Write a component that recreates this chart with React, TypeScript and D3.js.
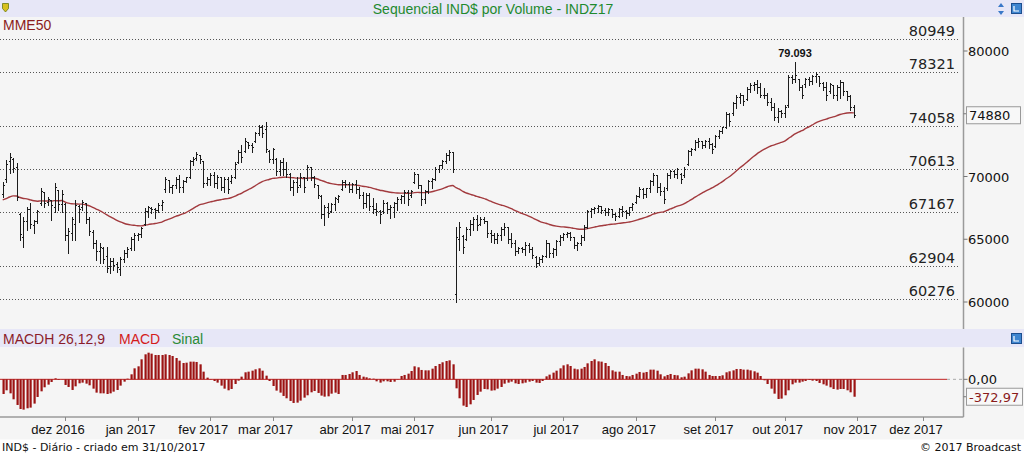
import React from "react";
import * as d3 from "d3";

// daily bars, [open, high, low, close], from early Nov 2016 to 31/10/2017
const bars: [number, number, number, number][] = [
  [68527, 69563, 68367, 69244], [69722, 71315, 69563, 70917], [71156, 71873, 70279, 71475], [71315, 71475, 70359, 70677],
  [70678, 71076, 68128, 68288], [66933, 67092, 64941, 65340], [65101, 66773, 64383, 66375], [66375, 67570, 65738, 67331],
  [67331, 67889, 65897, 66136], [66056, 66534, 65499, 66375], [66454, 67331, 66295, 67172], [67809, 69084, 67730, 68766],
  [68686, 68766, 67570, 67809], [67889, 68367, 67730, 68128], [68048, 68128, 66534, 67650], [67491, 69483, 67172, 69085],
  [68845, 68925, 67331, 67730], [67730, 68925, 67172, 68527], [67730, 67889, 64941, 65260], [65260, 65897, 63905, 65579],
  [65419, 66773, 64941, 66534], [66136, 68128, 64941, 67650], [67570, 67730, 66375, 67331], [67491, 68128, 67331, 67889],
  [67809, 67889, 66295, 66534], [66534, 66773, 65340, 65579], [65499, 65738, 64304, 64622], [64622, 64941, 63347, 63985],
  [63985, 64702, 63108, 64304], [64224, 64383, 63108, 63347], [63587, 64383, 62391, 62709], [62789, 63507, 62311, 63188],
  [63188, 63507, 62550, 62869], [62949, 63188, 62391, 62710], [62550, 63586, 62152, 63347], [63347, 64144, 63188, 63825],
  [63825, 64383, 63586, 64144], [64224, 65180, 64144, 64941], [64941, 65499, 64144, 65260], [65260, 65499, 64941, 65340],
  [65340, 65977, 65180, 65818], [66215, 67491, 66136, 67172], [67172, 67650, 66773, 67491], [67411, 67570, 67092, 67331],
  [67331, 67491, 66694, 67252], [67252, 67889, 67172, 67650], [67650, 68128, 67331, 67889], [68925, 69961, 68766, 69722],
  [69642, 69722, 68766, 69085], [69085, 69324, 68686, 69244], [69244, 69960, 69085, 69722], [69722, 70120, 68766, 69085],
  [69085, 69722, 68766, 69563], [69563, 69960, 69563, 69881], [69960, 71315, 69881, 71156], [71156, 71554, 70917, 71315],
  [71395, 71953, 71315, 71714], [71634, 71714, 71076, 71315], [71156, 71235, 69164, 69403], [69403, 69960, 69324, 69722],
  [69722, 70279, 69324, 70040], [70040, 70359, 69164, 69403], [69403, 70120, 69085, 69881], [69881, 69960, 68925, 69085],
  [69085, 69960, 68766, 69722], [69722, 69960, 68686, 68925], [69563, 70120, 69483, 69960], [69960, 71156, 69881, 70996],
  [71076, 72112, 71076, 71873], [71873, 72510, 71156, 71475], [71953, 73068, 71953, 72750], [72670, 72750, 72272, 72431],
  [72431, 72670, 71953, 72272], [72750, 73547, 72750, 73387], [73387, 74104, 73308, 73865], [73865, 74104, 73148, 73387],
  [73706, 74343, 71953, 72112], [71953, 72112, 71156, 71315], [71315, 72272, 71076, 72112], [71315, 71475, 70120, 70359],
  [70359, 71315, 70120, 71076], [71076, 71475, 70120, 70518], [70518, 71156, 69960, 70199], [70120, 70279, 68925, 69085],
  [69085, 69722, 68527, 69483], [69483, 69960, 68766, 69085], [69244, 70279, 69164, 69960], [69881, 69960, 68766, 69085],
  [69801, 70917, 69722, 70678], [70678, 70758, 69722, 69960], [69960, 70040, 69164, 69324], [69244, 69324, 68288, 68447],
  [68367, 68527, 66694, 66933], [66933, 67730, 66136, 67491], [67491, 67889, 66773, 67012], [67172, 67889, 67172, 67730],
  [67730, 68367, 67331, 68208], [68128, 68527, 67969, 68367], [68925, 69722, 68925, 69483], [69483, 69722, 69164, 69324],
  [69324, 69563, 68766, 68925], [68925, 69483, 68766, 69324], [69324, 69722, 68686, 68925], [68925, 69164, 68288, 68447],
  [68447, 68766, 67491, 67809], [67809, 68686, 67570, 68447], [68447, 68686, 67331, 67570], [67570, 68288, 67092, 67331],
  [67331, 67889, 66933, 67172], [67172, 67331, 66295, 66933], [67172, 68128, 67092, 67809], [67809, 67969, 67092, 67331],
  [67331, 67730, 66694, 67491], [67491, 67969, 66773, 67809], [67809, 68367, 67331, 68128], [68128, 68527, 67889, 68367],
  [68367, 68925, 67889, 68686], [68686, 68925, 67730, 68128], [68447, 68925, 68367, 68766], [69483, 70359, 69483, 70120],
  [70120, 70199, 69085, 69244], [69244, 69324, 67730, 68128], [68128, 68925, 67889, 68766], [68766, 69722, 68686, 69563],
  [69563, 69881, 69085, 69722], [69722, 70758, 69722, 70518], [70518, 70917, 70359, 70837], [70837, 71315, 70678, 71156],
  [71156, 71873, 71076, 71634], [71634, 72112, 71315, 71873], [71873, 71953, 70359, 70518], [60559, 65976, 60001, 65101],
  [64941, 66375, 64144, 65897], [65180, 65340, 63905, 64304], [64941, 65976, 64941, 65738], [65738, 66534, 65340, 66215],
  [66215, 66773, 65738, 66534], [66534, 66933, 65738, 66056], [66215, 66773, 66136, 66534], [66534, 66773, 66295, 66375],
  [66375, 66454, 65180, 65419], [65419, 65738, 64782, 65260], [65260, 65499, 64702, 64941], [64941, 65499, 64702, 65260],
  [65260, 65976, 64941, 65738], [65738, 66295, 65340, 65897], [65897, 65976, 64702, 64941], [64941, 65499, 64383, 64622],
  [64622, 64941, 63746, 63985], [63985, 64383, 63905, 64224], [64224, 64383, 63985, 64144], [64144, 64782, 63746, 64463],
  [64463, 64702, 63985, 64144], [64144, 64383, 63507, 63666], [63507, 63666, 62789, 63028], [63028, 63586, 62949, 63347],
  [63347, 63746, 63188, 63586], [63586, 64941, 63586, 64622], [64622, 64702, 63586, 63825], [63825, 64304, 63586, 64144],
  [64144, 64941, 63746, 64782], [64782, 65340, 64543, 65101], [65101, 65499, 64941, 65340], [65340, 65579, 65180, 65419],
  [65419, 65579, 64941, 65101], [65101, 65180, 64304, 64463], [64463, 64782, 64144, 64622], [64622, 65340, 64543, 65101],
  [65101, 66136, 64941, 65897], [65897, 67331, 65897, 67172], [67172, 67491, 66773, 67331], [67331, 67570, 67092, 67411],
  [67411, 67730, 67172, 67570], [67570, 67650, 67092, 67252], [67252, 67491, 66933, 67092], [67092, 67491, 66933, 67331],
  [67331, 67411, 66773, 66933], [66933, 67092, 66534, 66773], [66773, 67491, 66773, 67331], [67331, 67650, 66853, 67172],
  [67172, 67331, 66694, 67012], [67012, 67570, 66933, 67491], [67491, 67889, 67331, 67730], [67889, 68527, 67889, 68367],
  [68367, 69164, 68367, 68925], [68925, 69085, 68288, 68527], [68527, 69085, 68367, 69005], [69005, 69722, 68766, 69563],
  [69563, 70279, 69324, 70040], [70040, 70120, 68766, 69085], [69085, 69483, 68527, 68766], [68766, 69164, 67889, 68128],
  [69005, 70279, 68925, 70040], [70040, 70518, 69881, 70359], [70359, 70518, 69960, 70120], [70120, 70678, 69881, 70518],
  [70199, 70279, 69483, 69722], [70040, 70758, 69960, 70518], [70917, 72112, 70917, 71953], [71953, 72272, 71714, 72112],
  [72112, 72909, 72112, 72670], [72670, 73069, 72351, 72750], [72750, 72829, 72272, 72431], [72431, 72909, 72351, 72750],
  [72750, 73069, 72272, 72511], [72511, 72670, 71873, 72112], [72351, 73308, 72351, 73148], [73148, 73706, 73069, 73547],
  [73547, 73945, 73467, 73865], [73865, 75140, 73865, 74901], [74901, 75060, 74104, 74343], [74981, 75937, 74901, 75777],
  [75777, 76494, 75459, 76255], [76255, 76654, 75857, 76494], [76415, 76494, 75698, 75937], [76096, 77132, 76096, 76893],
  [76893, 77451, 76734, 77212], [77212, 77530, 76893, 77291], [77291, 77690, 76654, 77052], [77052, 77451, 76335, 76494],
  [76494, 77052, 76255, 76415], [76415, 76654, 75698, 75857], [75857, 76255, 75299, 75459], [75459, 75857, 74502, 74662],
  [74662, 75459, 74343, 75140], [75140, 75299, 74742, 74981], [74981, 75698, 74742, 75459], [75618, 78088, 75538, 77849],
  [77849, 78088, 77451, 77690], [77690, 79093, 77530, 78008], [77690, 77769, 76893, 77052], [77052, 77291, 76255, 76494],
  [77291, 77849, 77132, 77690], [77690, 77929, 77291, 77530], [77530, 78088, 77371, 77929], [77929, 78327, 77530, 78088],
  [77929, 78008, 77212, 77371], [77371, 77530, 76893, 77052], [77052, 77530, 76096, 76494], [76734, 77451, 76654, 77291],
  [77212, 77291, 76255, 76415], [76415, 77291, 76096, 77052], [77052, 77690, 76255, 77451], [77451, 77530, 76494, 76734],
  [76734, 76813, 76096, 76335], [76335, 76494, 75299, 75459], [75459, 75698, 74742, 74880],
];

// MACDH 26,12,9 histogram, one value per bar
const macdHist = [
  -314, -235, -300, -428, -549, -635, -649, -620, -606, -520,
  -378, -257, -171, -114, -57, 21, -14, -5, -121, -164,
  -228, -150, -86, -71, -93, -128, -200, -285, -300, -300,
  -314, -300, -264, -228, -135, -50, 14, 107, 235, 278,
  428, 535, 570, 549, 520, 520, 520, 535, 520, 499,
  456, 399, 349, 356, 378, 378, 371, 321, 164, 36,
  -7, -36, -71, -135, -200, -235, -207, -100, -29, 57,
  150, 164, 185, 214, 235, 185, 78, -36, -143, -242,
  -285, -356, -406, -463, -506, -499, -456, -392, -342, -278,
  -250, -292, -349, -371, -364, -307, -285, -314,
  93, 93, 114, 150, 178, 93, 57, 43, 21, 14,
  -43, -71, -43, -43, -57, -50, -7, 71, 93, 121,
  178, 278, 257, 200, 192, 192, 228, 285, 328, 364,
  392, 406, 321, -193, -406, -563, -592, -535, -442, -335,
  -264, -207, -214, -242, -235, -200, -164, -93, -71, -50,
  -86, -100, -86, -71, -50, -36, -71, -78, -36, 64,
  100, 143, 185, 235, 299, 321, 285, 228, 214, 228,
  264, 342, 392, 428, 385, 378, 349, 285, 192, 164,
  164, 93, 71, 64, 93, 121, 157, 143, 157, 207,
  207, 185, 107, 64, 93, 114, 93, 86,
  43, 57, 128, 192, 228, 228, 214, 164, 93, 71,
  71, 71, 86, 150, 171, 192, 221, 221, 207, 207,
  192, 171, 143, 71, -21, -100, -200, -307, -421, -413,
  -342, -235, -107, -71, -71, -50, -36, -14, -29, -36,
  -78, -107, -135, -171, -207, -221, -207, -207, -235, -278,
  -373,
];

const months = ["dez 2016", "jan 2017", "fev 2017", "mar 2017", "abr 2017", "mai 2017", "jun 2017",
  "jul 2017", "ago 2017", "set 2017", "out 2017", "nov 2017", "dez 2017"];
const monthStart = [18, 39, 60, 78, 101, 119, 141, 162, 183, 206, 226, 247, 266]; // bar index of 1st session

const levels = [80949, 78321, 74058, 70613, 67167, 62904, 60276];
const priceTicks = [60000, 65000, 70000, 75000, 80000];
const emaSeed = 68130; // MME50 value at the first bar
const lastPrice = 74880;
const lastHist = -372.97;
const peakLabel = "79.093";

const W = 1024, H = 454;
const axisX = 963.5;

export default function App() {
  const x = d3.scaleLinear().domain([0, 266]).range([2.7, 2.7 + 266 * 3.46]);
  const y = d3.scaleLinear().domain([60000, 80000]).range([302, 51]);
  const yM = d3.scaleLinear().domain([-800, 700]).range([416.7, 346.6]);

  // MME50 from the closes
  const k = 2 / 51;
  const ema: number[] = [];
  bars.forEach((b, i) => {
    ema.push(i === 0 ? emaSeed : ema[i - 1] + k * (b[3] - ema[i - 1]));
  });
  const emaLine = d3.line<number>().x((_, i) => x(i)).y((d) => y(d)).curve(d3.curveMonotoneX);

  const peakIdx = d3.maxIndex(bars, (b) => b[1]);
  const px = (i: number) => Math.round(x(i)) + 0.5;

  return (
    <svg width={W} height={H} style={{ position: "absolute", left: 0, top: 0, display: "block" }}
      fontFamily="'Liberation Sans', Arial, sans-serif">
      <rect width={W} height={H} fill="#ffffff" />
      {/* bands */}
      <rect x={0} y={0} width={W} height={17} fill="#e7e7f7" />
      <rect x={0} y={17} width={W} height={312} fill="#f5f5f5" />
      <rect x={0} y={329} width={W} height={18.5} fill="#e7e7f7" />
      <rect x={0} y={347.5} width={W} height={92} fill="#f5f5f5" />

      {/* title + icons */}
      <text x={493} y={14} textAnchor="middle" fontSize={14} fill="#1f8a2e">Sequencial IND$ por Volume - INDZ17</text>
      <path d="M2.5,3.5 h6 v5 l-3,3.5 l-3,-3.5 z" fill="#d8c020" stroke="#6a7a10" strokeWidth={0.8} />
      <path d="M1001,3 l3,4 h-6 z M1001,15 l3,-4 h-6 z" fill="#3a78c8" />
      <rect x={1011.5} y={3.5} width={10} height={10} fill="#3f86d0" stroke="#1d4f8f" />
      <path d="M1014,6 v5 h5" fill="none" stroke="#fff" strokeWidth={1.2} />
      <rect x={1011.5} y={333.5} width={10} height={10} fill="#3f86d0" stroke="#1d4f8f" />
      <path d="M1014,336 v5 h5" fill="none" stroke="#fff" strokeWidth={1.2} />

      <text x={3} y={30} fontSize={14} fill="#8b1c1c">MME50</text>

      {/* level lines */}
      {levels.map((v) => (
        <g key={v}>
          <line x1={0} x2={958} y1={Math.round(y(v)) + 0.5} y2={Math.round(y(v)) + 0.5}
            stroke="#555" strokeDasharray="1 2" />
          <text x={955} y={y(v) - 3} textAnchor="end" fontSize={14.5}
            fontFamily="'DejaVu Sans', sans-serif" fill="#222">{v}</text>
        </g>
      ))}

      {/* price axis */}
      <line x1={axisX} x2={axisX} y1={17} y2={329} stroke="#9a9a9a" strokeWidth={1.5} />
      {priceTicks.map((v) => (
        <g key={v}>
          <line x1={axisX} x2={axisX + 4} y1={y(v)} y2={y(v)} stroke="#777" />
          {v !== 75000 && (
            <text x={968} y={y(v) + 5} fontSize={13} fontFamily="'DejaVu Sans', sans-serif" fill="#111">{v}</text>
          )}
        </g>
      ))}
      <rect x={966.5} y={y(lastPrice) - 8.5} width={54} height={17} fill="#f8f8f8" stroke="#999" />
      <text x={969} y={y(lastPrice) + 5} fontSize={13} fontFamily="'DejaVu Sans', sans-serif" fill="#111">{lastPrice}</text>

      {/* MME50 */}
      <path d={emaLine(ema) ?? ""} fill="none" stroke="#a23a3e" strokeWidth={1.4} />

      {/* OHLC bars */}
      <g stroke="#1c1c1c" strokeWidth={1} shapeRendering="crispEdges">
        {bars.map((b, i) => {
          const cx = px(i);
          return (
            <g key={i}>
              <line x1={cx} x2={cx} y1={y(b[1])} y2={y(b[2]) + 1} />
              <line x1={cx - 1.5} x2={cx} y1={y(b[0])} y2={y(b[0])} />
              <line x1={cx} x2={cx + 1.5} y1={y(b[3])} y2={y(b[3])} />
            </g>
          );
        })}
      </g>
      <text x={x(peakIdx)} y={y(bars[peakIdx][1]) - 5} textAnchor="middle" fontSize={11} fontWeight="bold"
        fill="#111">{peakLabel}</text>

      {/* MACD header */}
      <text x={3} y={344} fontSize={14} fill="#8b1c2a">MACDH 26,12,9</text>
      <text x={119} y={344} fontSize={14} fill="#d41a1a">MACD</text>
      <text x={172} y={344} fontSize={14} fill="#2a8a35">Sinal</text>

      {/* MACD panel */}
      <line x1={0} x2={947} y1={yM(0)} y2={yM(0)} stroke="#c02020" strokeWidth={1} />
      <line x1={947} x2={axisX} y1={yM(0)} y2={yM(0)} stroke="#aaa" strokeDasharray="3 3" />
      <g fill="#9c1313">
        {macdHist.map((v, i) => (
          <rect key={i} x={Math.round(x(i)) - 0.5} width={2.2}
            y={Math.min(yM(v), yM(0))} height={Math.abs(yM(v) - yM(0))} />
        ))}
      </g>
      <line x1={axisX} x2={axisX} y1={347.5} y2={417} stroke="#9a9a9a" strokeWidth={1.5} />
      <line x1={axisX} x2={axisX + 4} y1={yM(0)} y2={yM(0)} stroke="#777" />
      <text x={968} y={yM(0) + 5} fontSize={13} fontFamily="'DejaVu Sans', sans-serif" fill="#111">0,00</text>
      <line x1={axisX} x2={axisX + 4} y1={yM(lastHist)} y2={yM(lastHist)} stroke="#777" />
      <rect x={966.5} y={yM(lastHist) - 8.5} width={56} height={17} fill="#f8f8f8" stroke="#999" />
      <text x={969} y={yM(lastHist) + 5} fontSize={13} fontFamily="'DejaVu Sans', sans-serif" fill="#8b1c1c">
        {lastHist.toFixed(2).replace(".", ",")}
      </text>

      {/* time axis */}
      <line x1={0} x2={axisX} y1={417} y2={417} stroke="#9a9a9a" strokeWidth={1.5} />
      {months.map((m, j) => (
        <g key={m}>
          <line x1={px(monthStart[j])} x2={px(monthStart[j])} y1={417} y2={421} stroke="#888" />
          <text x={x(monthStart[j]) - 7} y={434} textAnchor="middle" fontSize={13} fill="#111">{m}</text>
        </g>
      ))}

      {/* footer */}
      <text x={2} y={451} fontSize={11} fontFamily="'DejaVu Sans', sans-serif" fill="#111">IND$ - Diário - criado em 31/10/2017</text>
      <text x={1021} y={451} textAnchor="end" fontSize={11} fontFamily="'DejaVu Sans', sans-serif" fill="#111">© 2017 Broadcast</text>
    </svg>
  );
}
